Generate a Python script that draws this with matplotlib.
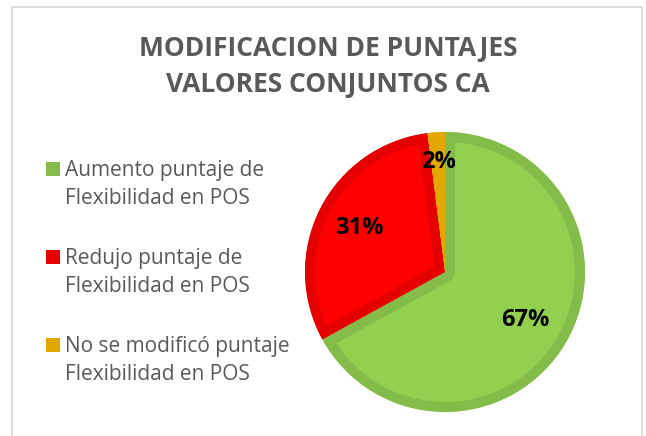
import numpy as np
import matplotlib
matplotlib.use("Agg")
import matplotlib.pyplot as plt
from matplotlib.patches import Rectangle

# Data
categories = [
    "Aumento puntaje de\nFlexibilidad en POS",
    "Redujo puntaje de\nFlexibilidad en POS",
    "No se modificó puntaje\nFlexibilidad en POS",
]
values = [67, 31, 2]
title_lines = ["MODIFICACION DE PUNTAJES", "VALORES CONJUNTOS CA"]

fill_colors = ["#92D050", "#FF0000", "#EAAD00"]
edge_colors = ["#84BC4A", "#E50000", "#E3A800"]
label_dist = [0.67, 0.69, 0.79]

W, H = 646, 436
DPI = 100
fig = plt.figure(figsize=(W / DPI, H / DPI), dpi=DPI)
fig.patch.set_facecolor("white")


def fx(px):
    return px / W


def fy(py):
    return 1 - py / H


# chart frame
fig.patches.append(Rectangle((fx(12), fy(500)), fx(642) - fx(12), fy(7) - fy(500),
                             transform=fig.transFigure, fill=False,
                             edgecolor="#D9D9D9", linewidth=1.3))

# title
grey = "#595959"
for i, line in enumerate(title_lines):
    fig.text(fx(328), fy(56 + 36 * i), line, ha="center", va="baseline",
             fontsize=19, fontweight="bold", color=grey, family="Open Sans")

# pie (axes slightly larger than the pie so nothing is cut at the rim)
cx, cy, r = 445, 272, 140
pad = 1.05
ax = fig.add_axes([fx(cx - r * pad), fy(cy + r * pad), (2 * r * pad) / W, (2 * r * pad) / H])
wedges, _ = ax.pie(values, colors=fill_colors, startangle=90, counterclock=False,
                   radius=1.0)
for w, ec in zip(wedges, edge_colors):
    # inner stroke: a wide edge clipped to the wedge itself
    w.set_edgecolor(ec)
    w.set_linewidth(14.4)
    w.set_joinstyle("round")
    w.set_clip_on(True)
    w.set_clip_path(w)
ax.set_xlim(-pad, pad)
ax.set_ylim(-pad, pad)
ax.set_aspect("equal")
ax.axis("off")

total = sum(values)
for w, v, d in zip(wedges, values, label_dist):
    mid = np.deg2rad((w.theta1 + w.theta2) / 2)
    ax.text(d * np.cos(mid), d * np.sin(mid), f"{round(100 * v / total)}%",
            ha="center", va="center", fontsize=17, fontweight="bold",
            color="black", family="Open Sans")

# legend
for i, (label, ec) in enumerate(zip(categories, edge_colors)):
    base = 176 + 88 * i
    fig.patches.append(Rectangle((fx(46), fy(base)), fx(60) - fx(46), fy(base - 14) - fy(base),
                                 transform=fig.transFigure, facecolor=ec, edgecolor="none"))
    for j, line in enumerate(label.split("\n")):
        fig.text(fx(65), fy(base + 28 * j), line, ha="left", va="baseline",
                 fontsize=15, color=grey, family="Open Sans")

fig.savefig("out.png", dpi=DPI, facecolor="white")
